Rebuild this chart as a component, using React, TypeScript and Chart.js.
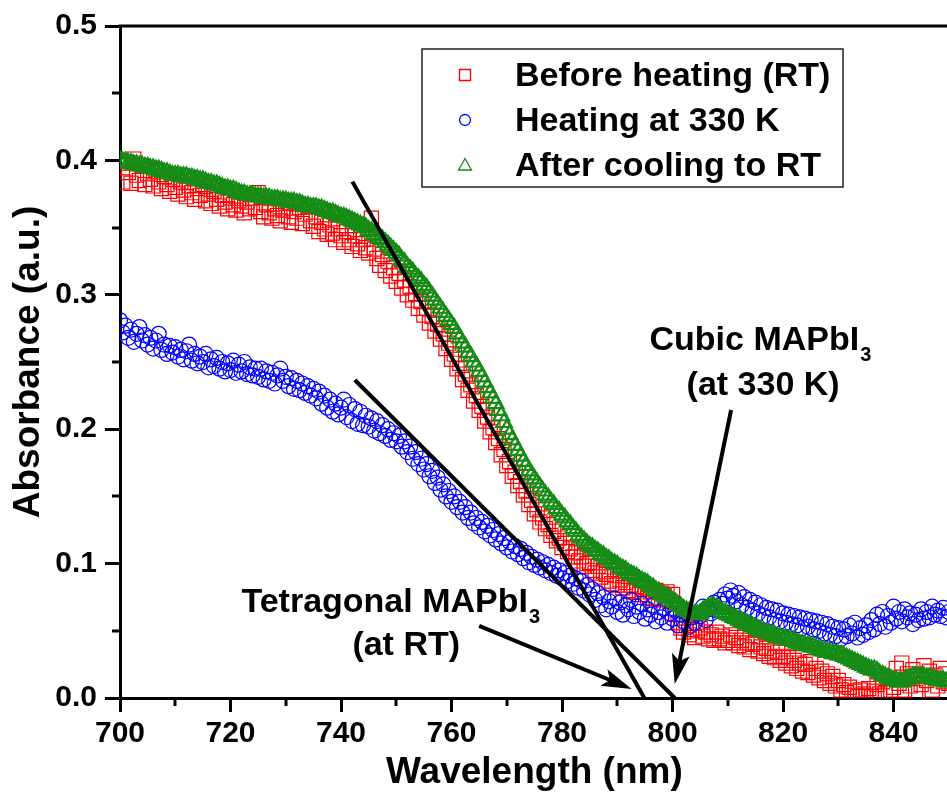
import React, { useEffect, useRef } from 'react';
import { Chart, registerables } from 'chart.js';

Chart.register(...registerables);

const FONT = "'Liberation Sans', Arial, Helvetica, sans-serif";

const WAVELENGTH_NM = [
  700, 700.5, 701, 701.5, 702, 702.5, 703, 703.5, 704, 704.5,
  705, 705.5, 706, 706.5, 707, 707.5, 708, 708.5, 709, 709.5,
  710, 710.5, 711, 711.5, 712, 712.5, 713, 713.5, 714, 714.5,
  715, 715.5, 716, 716.5, 717, 717.5, 718, 718.5, 719, 719.5,
  720, 720.5, 721, 721.5, 722, 722.5, 723, 723.5, 724, 724.5,
  725, 725.5, 726, 726.5, 727, 727.5, 728, 728.5, 729, 729.5,
  730, 730.5, 731, 731.5, 732, 732.5, 733, 733.5, 734, 734.5,
  735, 735.5, 736, 736.5, 737, 737.5, 738, 738.5, 739, 739.5,
  740, 740.5, 741, 741.5, 742, 742.5, 743, 743.5, 744, 744.5,
  745, 745.5, 746, 746.5, 747, 747.5, 748, 748.5, 749, 749.5,
  750, 750.5, 751, 751.5, 752, 752.5, 753, 753.5, 754, 754.5,
  755, 755.5, 756, 756.5, 757, 757.5, 758, 758.5, 759, 759.5,
  760, 760.5, 761, 761.5, 762, 762.5, 763, 763.5, 764, 764.5,
  765, 765.5, 766, 766.5, 767, 767.5, 768, 768.5, 769, 769.5,
  770, 770.5, 771, 771.5, 772, 772.5, 773, 773.5, 774, 774.5,
  775, 775.5, 776, 776.5, 777, 777.5, 778, 778.5, 779, 779.5,
  780, 780.5, 781, 781.5, 782, 782.5, 783, 783.5, 784, 784.5,
  785, 785.5, 786, 786.5, 787, 787.5, 788, 788.5, 789, 789.5,
  790, 790.5, 791, 791.5, 792, 792.5, 793, 793.5, 794, 794.5,
  795, 795.5, 796, 796.5, 797, 797.5, 798, 798.5, 799, 799.5,
  800, 800.5, 801, 801.5, 802, 802.5, 803, 803.5, 804, 804.5,
  805, 805.5, 806, 806.5, 807, 807.5, 808, 808.5, 809, 809.5,
  810, 810.5, 811, 811.5, 812, 812.5, 813, 813.5, 814, 814.5,
  815, 815.5, 816, 816.5, 817, 817.5, 818, 818.5, 819, 819.5,
  820, 820.5, 821, 821.5, 822, 822.5, 823, 823.5, 824, 824.5,
  825, 825.5, 826, 826.5, 827, 827.5, 828, 828.5, 829, 829.5,
  830, 830.5, 831, 831.5, 832, 832.5, 833, 833.5, 834, 834.5,
  835, 835.5, 836, 836.5, 837, 837.5, 838, 838.5, 839, 839.5,
  840, 840.5, 841, 841.5, 842, 842.5, 843, 843.5, 844, 844.5,
  845, 845.5, 846, 846.5, 847, 847.5, 848, 848.5, 849, 849.5,
  850,
];

const BEFORE_HEATING = [
  0.400, 0.384, 0.398, 0.391, 0.383, 0.401, 0.389, 0.385, 0.396, 0.382,
  0.390, 0.386, 0.381, 0.393, 0.384, 0.379, 0.388, 0.382, 0.377, 0.386,
  0.380, 0.375, 0.384, 0.378, 0.373, 0.381, 0.376, 0.371, 0.379, 0.374,
  0.382, 0.370, 0.375, 0.368, 0.377, 0.371, 0.366, 0.374, 0.369, 0.364,
  0.372, 0.367, 0.363, 0.370, 0.366, 0.361, 0.369, 0.364, 0.372, 0.365,
  0.376, 0.362, 0.358, 0.367, 0.361, 0.357, 0.364, 0.359, 0.355, 0.363,
  0.368, 0.358, 0.354, 0.362, 0.357, 0.365, 0.353, 0.360, 0.366, 0.355,
  0.351, 0.358, 0.347, 0.354, 0.349, 0.345, 0.352, 0.346, 0.341, 0.349,
  0.344, 0.339, 0.347, 0.341, 0.336, 0.344, 0.338, 0.333, 0.341, 0.335,
  0.331, 0.357, 0.334, 0.327, 0.322, 0.330, 0.318, 0.325, 0.314, 0.320,
  0.310, 0.316, 0.305, 0.311, 0.300, 0.306, 0.296, 0.301, 0.290, 0.295,
  0.285, 0.290, 0.279, 0.284, 0.273, 0.278, 0.267, 0.271, 0.260, 0.264,
  0.252, 0.256, 0.245, 0.249, 0.237, 0.241, 0.229, 0.233, 0.221, 0.225,
  0.214, 0.217, 0.206, 0.209, 0.198, 0.201, 0.190, 0.193, 0.181, 0.185,
  0.173, 0.176, 0.165, 0.168, 0.158, 0.161, 0.151, 0.154, 0.144, 0.147,
  0.137, 0.140, 0.131, 0.134, 0.126, 0.129, 0.121, 0.124, 0.117, 0.119,
  0.112, 0.115, 0.109, 0.111, 0.105, 0.108, 0.102, 0.105, 0.098, 0.100,
  0.101, 0.095, 0.093, 0.098, 0.090, 0.094, 0.092, 0.087, 0.085, 0.091,
  0.084, 0.088, 0.082, 0.086, 0.080, 0.084, 0.079, 0.083, 0.077, 0.081,
  0.082, 0.075, 0.079, 0.074, 0.080, 0.073, 0.078, 0.076, 0.079, 0.072,
  0.077, 0.062, 0.056, 0.052, 0.049, 0.054, 0.047, 0.051, 0.045, 0.050,
  0.052, 0.046, 0.049, 0.044, 0.047, 0.043, 0.049, 0.044, 0.046, 0.041,
  0.043, 0.047, 0.041, 0.045, 0.039, 0.043, 0.038, 0.041, 0.036, 0.040,
  0.041, 0.035, 0.038, 0.033, 0.037, 0.031, 0.035, 0.030, 0.034, 0.028,
  0.031, 0.026, 0.030, 0.024, 0.028, 0.022, 0.026, 0.020, 0.025, 0.019,
  0.027, 0.017, 0.022, 0.015, 0.020, 0.013, 0.018, 0.011, 0.016, 0.009,
  0.013, 0.006, 0.010, 0.004, 0.008, 0.002, 0.005, 0.001, 0.006, 0.003,
  0.002, 0.007, 0.001, 0.005, 0.010, 0.003, 0.012, 0.004, 0.015, 0.006,
  0.008, 0.022, 0.011, 0.026, 0.006, 0.018, 0.009, 0.021, 0.004, 0.016,
  0.010, 0.024, 0.013, 0.020, 0.006, 0.017, 0.009, 0.022, 0.012, 0.018,
  0.011,
];

const HEATING_330K = [
  0.281, 0.272, 0.277, 0.268, 0.274, 0.265, 0.271, 0.276, 0.266, 0.270,
  0.263, 0.268, 0.260, 0.266, 0.271, 0.259, 0.263, 0.256, 0.262, 0.257,
  0.261, 0.254, 0.259, 0.252, 0.258, 0.263, 0.251, 0.256, 0.249, 0.254,
  0.250, 0.256, 0.246, 0.252, 0.247, 0.253, 0.245, 0.250, 0.243, 0.249,
  0.244, 0.251, 0.242, 0.248, 0.243, 0.250, 0.241, 0.246, 0.240, 0.245,
  0.239, 0.245, 0.237, 0.243, 0.236, 0.242, 0.234, 0.240, 0.245, 0.236,
  0.239, 0.232, 0.238, 0.230, 0.236, 0.229, 0.234, 0.227, 0.232, 0.225,
  0.230, 0.223, 0.228, 0.219, 0.225, 0.216, 0.222, 0.213, 0.219, 0.211,
  0.216, 0.222, 0.209, 0.218, 0.206, 0.215, 0.204, 0.213, 0.203, 0.210,
  0.202, 0.208, 0.199, 0.206, 0.197, 0.203, 0.195, 0.200, 0.192, 0.197,
  0.191, 0.195, 0.187, 0.191, 0.183, 0.187, 0.178, 0.183, 0.174, 0.178,
  0.170, 0.174, 0.165, 0.169, 0.160, 0.164, 0.155, 0.159, 0.150, 0.154,
  0.146, 0.150, 0.142, 0.146, 0.138, 0.142, 0.134, 0.138, 0.130, 0.134,
  0.127, 0.131, 0.124, 0.128, 0.121, 0.125, 0.118, 0.122, 0.115, 0.119,
  0.112, 0.116, 0.109, 0.113, 0.107, 0.111, 0.104, 0.108, 0.101, 0.105,
  0.099, 0.103, 0.097, 0.101, 0.095, 0.099, 0.093, 0.097, 0.091, 0.095,
  0.089, 0.093, 0.087, 0.091, 0.085, 0.089, 0.082, 0.087, 0.080, 0.084,
  0.077, 0.081, 0.073, 0.078, 0.069, 0.075, 0.066, 0.072, 0.068, 0.074,
  0.064, 0.071, 0.062, 0.069, 0.066, 0.073, 0.061, 0.068, 0.064, 0.070,
  0.059, 0.066, 0.062, 0.069, 0.057, 0.064, 0.060, 0.067, 0.056, 0.063,
  0.059, 0.066, 0.054, 0.062, 0.057, 0.064, 0.053, 0.060, 0.056, 0.063,
  0.061, 0.068, 0.058, 0.066, 0.063, 0.071, 0.065, 0.073, 0.070, 0.077,
  0.074, 0.080, 0.076, 0.072, 0.078, 0.069, 0.075, 0.067, 0.073, 0.065,
  0.071, 0.063, 0.069, 0.061, 0.067, 0.060, 0.066, 0.058, 0.065, 0.057,
  0.063, 0.056, 0.062, 0.055, 0.061, 0.054, 0.060, 0.052, 0.059, 0.053,
  0.058, 0.051, 0.057, 0.050, 0.056, 0.048, 0.055, 0.047, 0.053, 0.046,
  0.052, 0.044, 0.051, 0.046, 0.054, 0.048, 0.056, 0.045, 0.052, 0.047,
  0.054, 0.049, 0.058, 0.051, 0.062, 0.055, 0.064, 0.053, 0.061, 0.056,
  0.068, 0.059, 0.064, 0.057, 0.066, 0.060, 0.063, 0.055, 0.062, 0.058,
  0.066, 0.059, 0.064, 0.060, 0.068, 0.062, 0.065, 0.061, 0.067, 0.060,
  0.064,
];

const AFTER_COOLING = [
  0.400, 0.399, 0.399, 0.398, 0.398, 0.397, 0.397, 0.396, 0.396, 0.395,
  0.395, 0.394, 0.394, 0.393, 0.393, 0.392, 0.391, 0.391, 0.390, 0.389,
  0.389, 0.389, 0.388, 0.388, 0.388, 0.387, 0.387, 0.386, 0.386, 0.385,
  0.385, 0.384, 0.383, 0.383, 0.382, 0.382, 0.381, 0.380, 0.379, 0.379,
  0.378, 0.378, 0.377, 0.376, 0.375, 0.375, 0.374, 0.374, 0.374, 0.373,
  0.373, 0.373, 0.372, 0.372, 0.372, 0.371, 0.371, 0.371, 0.370, 0.370,
  0.370, 0.369, 0.369, 0.369, 0.368, 0.368, 0.367, 0.366, 0.366, 0.365,
  0.365, 0.365, 0.364, 0.364, 0.363, 0.362, 0.361, 0.361, 0.360, 0.359,
  0.358, 0.358, 0.357, 0.356, 0.355, 0.354, 0.353, 0.352, 0.351, 0.350,
  0.348, 0.347, 0.345, 0.344, 0.342, 0.341, 0.339, 0.337, 0.335, 0.333,
  0.331, 0.329, 0.326, 0.324, 0.321, 0.319, 0.317, 0.314, 0.312, 0.310,
  0.307, 0.305, 0.302, 0.299, 0.296, 0.293, 0.290, 0.287, 0.284, 0.281,
  0.278, 0.275, 0.271, 0.268, 0.264, 0.261, 0.257, 0.254, 0.250, 0.247,
  0.243, 0.239, 0.235, 0.231, 0.227, 0.223, 0.219, 0.214, 0.210, 0.205,
  0.200, 0.196, 0.192, 0.188, 0.184, 0.180, 0.176, 0.173, 0.169, 0.166,
  0.163, 0.160, 0.157, 0.154, 0.151, 0.149, 0.146, 0.144, 0.141, 0.139,
  0.136, 0.134, 0.131, 0.129, 0.126, 0.124, 0.121, 0.119, 0.117, 0.115,
  0.113, 0.112, 0.110, 0.109, 0.107, 0.106, 0.104, 0.103, 0.101, 0.100,
  0.099, 0.097, 0.096, 0.095, 0.093, 0.092, 0.091, 0.090, 0.088, 0.087,
  0.086, 0.085, 0.083, 0.082, 0.080, 0.079, 0.077, 0.076, 0.075, 0.074,
  0.072, 0.071, 0.069, 0.068, 0.066, 0.065, 0.064, 0.063, 0.062, 0.062,
  0.063, 0.065, 0.066, 0.067, 0.068, 0.068, 0.067, 0.066, 0.064, 0.063,
  0.062, 0.061, 0.060, 0.059, 0.058, 0.057, 0.056, 0.055, 0.054, 0.053,
  0.052, 0.051, 0.050, 0.049, 0.048, 0.048, 0.047, 0.046, 0.045, 0.045,
  0.044, 0.044, 0.043, 0.043, 0.042, 0.041, 0.040, 0.040, 0.039, 0.039,
  0.038, 0.038, 0.037, 0.036, 0.035, 0.035, 0.034, 0.034, 0.033, 0.033,
  0.032, 0.032, 0.031, 0.030, 0.029, 0.028, 0.027, 0.026, 0.025, 0.024,
  0.023, 0.022, 0.021, 0.021, 0.020, 0.018, 0.017, 0.016, 0.015, 0.014,
  0.013, 0.013, 0.012, 0.012, 0.013, 0.014, 0.015, 0.016, 0.016, 0.016,
  0.016, 0.016, 0.015, 0.015, 0.014, 0.014, 0.013, 0.013, 0.013, 0.012,
  0.012,
];

const SERIES_LABELS = ['Before heating (RT)', 'Heating at 330 K', 'After cooling to RT'];
const X_TICKS = [700, 720, 740, 760, 780, 800, 820, 840];
const X_MINOR_TICKS = [710, 730, 750, 770, 790, 810, 830, 850];
const Y_TICKS = [0, 0.1, 0.2, 0.3, 0.4, 0.5];
const Y_MINOR_TICKS = [0.05, 0.15, 0.25, 0.35, 0.45];
const X_TITLE = 'Wavelength (nm)';
const Y_TITLE = 'Absorbance (a.u.)';

// tangent (band-edge) lines, in data units
const TANGENT_RT_X = [742.05, 794.9];
const TANGENT_RT_Y = [0.3842, 0];
const TANGENT_330K_X = [742.5, 800.4];
const TANGENT_330K_Y = [0.2366, 0];

// annotation arrows and texts, in data units
const ARROWS = [
  { from: [765.0, 0.0536], to: [792.6, 0.0067] },
  { from: [810.6, 0.2143], to: [800.4, 0.0104] },
];
const NOTES = [
  { text: 'Tetragonal MAPbI', sub: '3', x: 749.0, y: 0.064 },
  { text: '(at RT)', sub: '', x: 751.8, y: 0.032 },
  { text: 'Cubic MAPbI', sub: '3', x: 815.9, y: 0.2589 },
  { text: '(at 330 K)', sub: '', x: 816.4, y: 0.2254 },
];

const RED = '#ff0000';
const BLUE = '#0000ff';
const GREEN = '#168c16';

const pts = (xs: number[], ys: number[]) => xs.map((x, i) => ({ x, y: ys[i] }));

const decorPlugin = {
  id: 'decor',
  afterDatasetsDraw(chart: any) {
    const { ctx, chartArea, scales } = chart;
    const xs = scales.x;
    const ys = scales.y;
    ctx.save();
    ctx.strokeStyle = '#000';
    ctx.lineWidth = 3;
    ctx.lineCap = 'butt';
    ctx.beginPath();
    ctx.moveTo(chartArea.left - 1.5, chartArea.top);
    ctx.lineTo(chart.width, chartArea.top);
    ctx.stroke();
    X_MINOR_TICKS.forEach((v) => {
      const px = Math.round(xs.getPixelForValue(v));
      ctx.beginPath();
      ctx.moveTo(px, chartArea.bottom);
      ctx.lineTo(px, chartArea.bottom + 8);
      ctx.stroke();
    });
    Y_MINOR_TICKS.forEach((v) => {
      const py = Math.round(ys.getPixelForValue(v));
      ctx.beginPath();
      ctx.moveTo(chartArea.left, py);
      ctx.lineTo(chartArea.left - 8, py);
      ctx.stroke();
    });
    ctx.fillStyle = '#000';
    ctx.lineWidth = 4;
    ARROWS.forEach((a) => {
      const x0 = xs.getPixelForValue(a.from[0]);
      const y0 = ys.getPixelForValue(a.from[1]);
      const x1 = xs.getPixelForValue(a.to[0]);
      const y1 = ys.getPixelForValue(a.to[1]);
      const ang = Math.atan2(y1 - y0, x1 - x0);
      const c = Math.cos(ang);
      const s = Math.sin(ang);
      const hl = 30;
      const hw = 9;
      const bx = x1 - c * hl;
      const by = y1 - s * hl;
      ctx.beginPath();
      ctx.moveTo(x0, y0);
      ctx.lineTo(x1 - c * hl * 0.7, y1 - s * hl * 0.7);
      ctx.stroke();
      ctx.beginPath();
      ctx.moveTo(x1, y1);
      ctx.lineTo(bx - s * hw, by + c * hw);
      ctx.lineTo(x1 - c * hl * 0.78, y1 - s * hl * 0.78);
      ctx.lineTo(bx + s * hw, by - c * hw);
      ctx.closePath();
      ctx.fill();
    });
    ctx.textAlign = 'left';
    ctx.textBaseline = 'alphabetic';
    NOTES.forEach((n) => {
      ctx.font = `bold 34px ${FONT}`;
      const w = ctx.measureText(n.text).width;
      ctx.font = `bold 20px ${FONT}`;
      const ws = n.sub ? ctx.measureText(n.sub).width + 1 : 0;
      const cx = xs.getPixelForValue(n.x);
      const by = ys.getPixelForValue(n.y);
      const left = cx - (w + ws) / 2;
      ctx.font = `bold 34px ${FONT}`;
      ctx.fillText(n.text, left, by);
      if (n.sub) {
        ctx.font = `bold 20px ${FONT}`;
        ctx.fillText(n.sub, left + w + 1, by + 11);
      }
    });
    ctx.restore();
  },
  afterDraw(chart: any) {
    const { ctx } = chart;
    ctx.save();
    const L = { left: 422, top: 49, right: 843, bottom: 187 };
    ctx.fillStyle = '#fff';
    ctx.fillRect(L.left, L.top, L.right - L.left, L.bottom - L.top);
    ctx.strokeStyle = '#222';
    ctx.lineWidth = 1.5;
    ctx.strokeRect(L.left, L.top, L.right - L.left, L.bottom - L.top);
    const items = [
      { label: SERIES_LABELS[0], style: 'rect', color: RED },
      { label: SERIES_LABELS[1], style: 'circle', color: BLUE },
      { label: SERIES_LABELS[2], style: 'triangle', color: GREEN },
    ];
    items.forEach((it, i) => {
      const my = 75 + i * 45;
      const mx = 465;
      ctx.strokeStyle = it.color;
      ctx.lineWidth = 1.3;
      ctx.beginPath();
      if (it.style === 'rect') {
        ctx.rect(mx - 5.5, my - 5.5, 11, 11);
      } else if (it.style === 'circle') {
        ctx.arc(mx, my, 5.5, 0, Math.PI * 2);
      } else {
        ctx.moveTo(mx, my - 6.5);
        ctx.lineTo(mx + 6.5, my + 5);
        ctx.lineTo(mx - 6.5, my + 5);
        ctx.closePath();
      }
      ctx.stroke();
      ctx.fillStyle = '#000';
      ctx.font = `bold 34px ${FONT}`;
      ctx.textAlign = 'left';
      ctx.textBaseline = 'alphabetic';
      ctx.fillText(it.label, 515, my + 11);
    });
    ctx.restore();
  },
};

export default function App() {
  const canvasRef = useRef<HTMLCanvasElement | null>(null);

  useEffect(() => {
    const canvas = canvasRef.current;
    if (!canvas) return;
    const chart = new Chart(canvas, {
      type: 'scatter',
      data: {
        datasets: [
          {
            label: 'Tangent RT',
            data: pts(TANGENT_RT_X, TANGENT_RT_Y),
            showLine: true,
            borderColor: '#000',
            borderWidth: 4,
            pointRadius: 0,
            order: 0,
            clip: 0,
          },
          {
            label: 'Tangent 330 K',
            data: pts(TANGENT_330K_X, TANGENT_330K_Y),
            showLine: true,
            borderColor: '#000',
            borderWidth: 4,
            pointRadius: 0,
            order: 0,
            clip: 0,
          },
          {
            label: SERIES_LABELS[2],
            data: pts(WAVELENGTH_NM, AFTER_COOLING),
            pointStyle: 'triangle',
            pointRadius: 9,
            borderColor: GREEN,
            backgroundColor: 'rgba(0,0,0,0)',
            pointBorderWidth: 2.2,
            order: 1,
            clip: 0,
          },
          {
            label: SERIES_LABELS[1],
            data: pts(WAVELENGTH_NM, HEATING_330K),
            pointStyle: 'circle',
            pointRadius: 7.5,
            borderColor: BLUE,
            backgroundColor: 'rgba(0,0,0,0)',
            pointBorderWidth: 1.2,
            order: 2,
            clip: 0,
          },
          {
            label: SERIES_LABELS[0],
            data: pts(WAVELENGTH_NM, BEFORE_HEATING),
            pointStyle: 'rect',
            pointRadius: 10,
            borderColor: RED,
            backgroundColor: 'rgba(0,0,0,0)',
            pointBorderWidth: 1.2,
            order: 3,
            clip: 0,
          },
        ],
      },
      options: {
        animation: false,
        responsive: false,
        devicePixelRatio: 1,
        events: [],
        layout: { padding: { top: 26, right: 3, left: 0, bottom: 0 } },
        plugins: { legend: { display: false }, tooltip: { enabled: false } },
        scales: {
          x: {
            type: 'linear',
            min: 700,
            max: 850,
            afterBuildTicks: (s: any) => {
              s.ticks = X_TICKS.map((v) => ({ value: v }));
            },
            afterFit: (s: any) => {
              s.height = 99;
            },
            ticks: {
              autoSkip: false,
              maxRotation: 0,
              padding: 4,
              color: '#000',
              font: { family: FONT, size: 30, weight: 'bold' },
              callback: (v: any) => String(v),
            },
            grid: {
              drawOnChartArea: false,
              drawTicks: true,
              tickLength: 14,
              tickWidth: 3,
              tickColor: '#000',
            },
            border: { display: true, width: 3, color: '#000' },
            title: {
              display: true,
              text: X_TITLE,
              color: '#000',
              font: { family: FONT, size: 37, weight: 'bold' },
              padding: { top: 0, bottom: 2 },
            },
          },
          y: {
            type: 'linear',
            min: 0,
            max: 0.5,
            afterBuildTicks: (s: any) => {
              s.ticks = Y_TICKS.map((v) => ({ value: v }));
            },
            afterFit: (s: any) => {
              s.width = 120;
            },
            ticks: {
              autoSkip: false,
              padding: 8,
              color: '#000',
              font: { family: FONT, size: 30, weight: 'bold' },
              callback: (v: any) => Number(v).toFixed(1),
            },
            grid: {
              drawOnChartArea: false,
              drawTicks: true,
              tickLength: 15,
              tickWidth: 3,
              tickColor: '#000',
            },
            border: { display: true, width: 3, color: '#000' },
            title: {
              display: true,
              text: Y_TITLE,
              color: '#000',
              font: { family: FONT, size: 37, weight: 'bold' },
              padding: { top: 7, bottom: 0 },
            },
          },
        },
      },
      plugins: [decorPlugin],
    } as any);
    return () => chart.destroy();
  }, []);

  return (
    <div
      style={{
        position: 'absolute',
        left: 0,
        top: 0,
        width: 947,
        height: 797,
        overflow: 'hidden',
        background: '#fff',
      }}
    >
      <canvas ref={canvasRef} width={960} height={797} style={{ display: 'block' }} />
    </div>
  );
}
